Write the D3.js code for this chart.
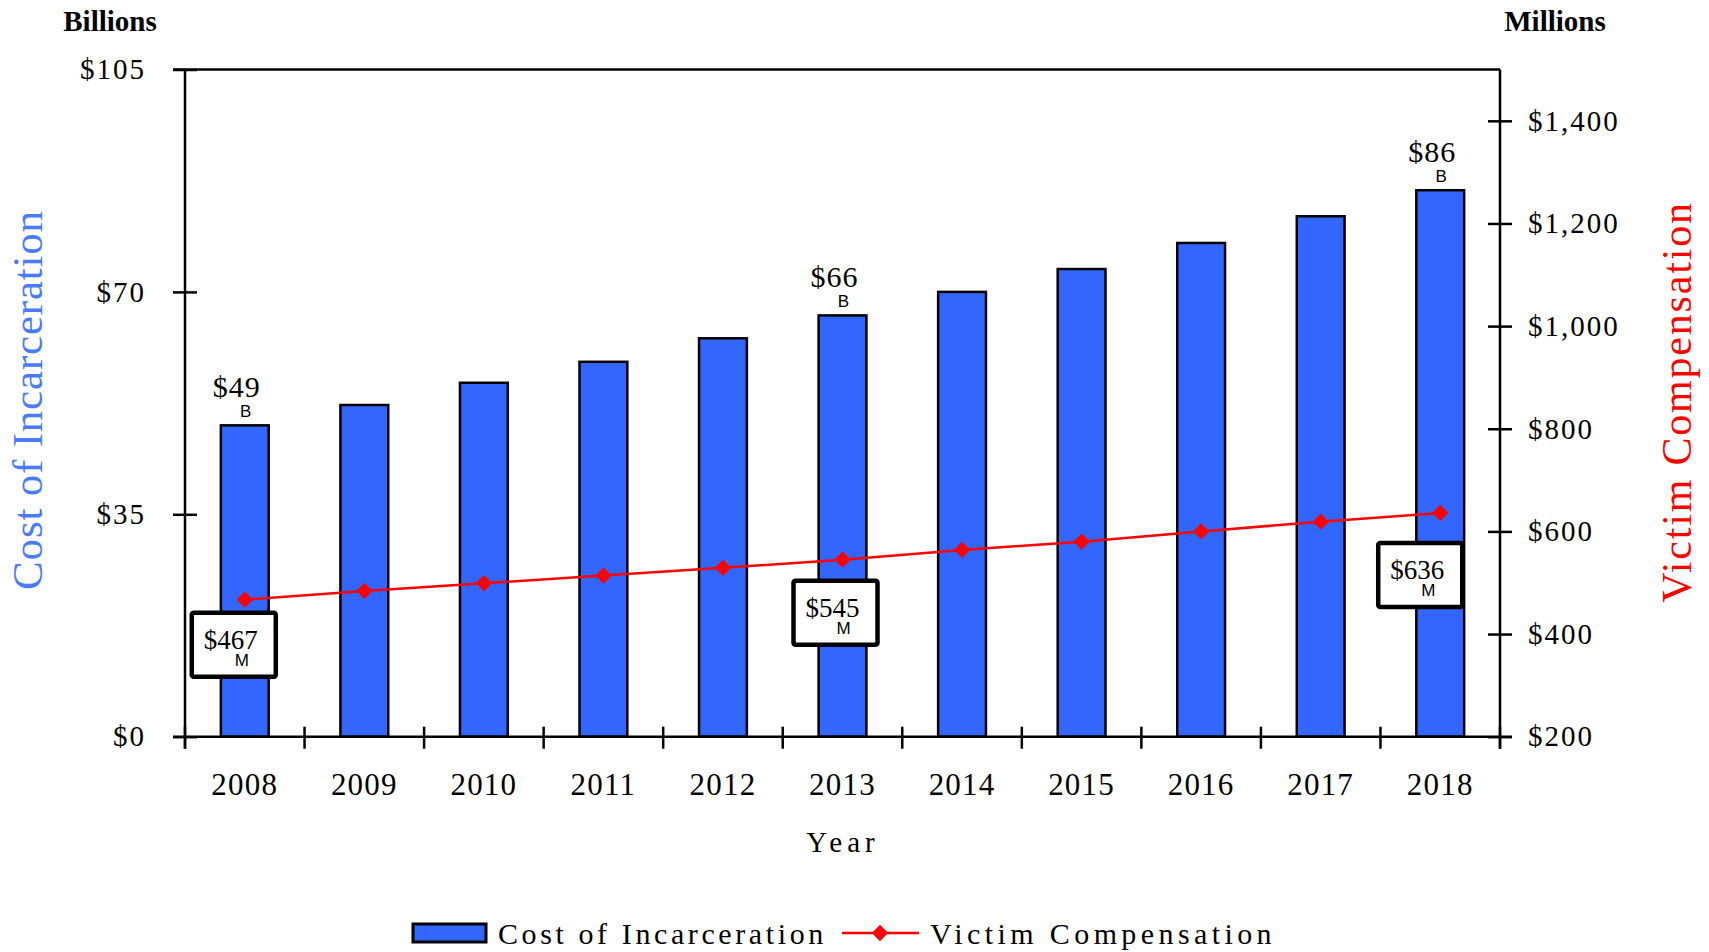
<!DOCTYPE html>
<html>
<head>
<meta charset="utf-8">
<script src="https://cdn.jsdelivr.net/npm/d3@7/dist/d3.min.js"></script>
<style>
  body { margin: 0; background: #fff; }
  text { font-family: "Liberation Serif", "Times New Roman", serif; }
  .sans { font-family: "Liberation Sans", Arial, sans-serif; }
</style>
</head>
<body>
<script>
// data
var years = ["2008", "2009", "2010", "2011", "2012", "2013", "2014", "2015", "2016", "2017", "2018"];
var incarceration = [49, 52.2, 55.7, 59.0, 62.7, 66.3, 70.0, 73.6, 77.7, 81.9, 86];   // billions
var compensation = [467, 484, 499, 514, 529, 545, 564, 580, 600, 619, 636];          // millions
var leftTicks = [0, 35, 70, 105];
var rightTicks = [200, 400, 600, 800, 1000, 1200, 1400];
var barLabels = [{ year: "2008", text: "$49" }, { year: "2013", text: "$66" }, { year: "2018", text: "$86" }];
var lineLabels = [{ year: "2008", text: "$467" }, { year: "2013", text: "$545" }, { year: "2018", text: "$636" }];

var width = 1709, height = 952;
var plotLeft = 185, plotRight = 1500, plotTop = 69.5, plotBottom = 736.7;
var blue = "#3366FF", red = "#FF0000";

var svg = d3.select("body").append("svg")
    .attr("width", width)
    .attr("height", height);

var x = d3.scaleBand()
    .domain(years)
    .range([plotLeft, plotRight])
    .paddingInner(0.6)
    .paddingOuter(0.3);

var yL = d3.scaleLinear().domain([0, 105]).range([plotBottom, plotTop]);
var yR = d3.scaleLinear().domain([200, 1500]).range([plotBottom, plotTop]);

var cx = function(y) { return x(y) + x.bandwidth() / 2; };

// bars
svg.selectAll(".bar")
    .data(years)
    .enter().append("rect")
        .attr("class", "bar")
        .attr("x", function(d) { return x(d); })
        .attr("width", x.bandwidth())
        .attr("y", function(d, i) { return yL(incarceration[i]); })
        .attr("height", function(d, i) { return plotBottom - yL(incarceration[i]); })
        .attr("fill", blue)
        .attr("stroke", "#000")
        .attr("stroke-width", 2.5);

// frame
var frame = svg.append("g").attr("stroke", "#000").attr("stroke-width", 2.5);
frame.append("line").attr("x1", plotLeft - 12).attr("x2", plotRight).attr("y1", plotTop).attr("y2", plotTop);
frame.append("line").attr("x1", plotLeft).attr("x2", plotLeft).attr("y1", plotTop).attr("y2", plotBottom + 12);
frame.append("line").attr("x1", plotRight).attr("x2", plotRight).attr("y1", plotTop).attr("y2", plotBottom + 12);
frame.append("line").attr("x1", plotLeft - 12).attr("x2", plotRight + 12).attr("y1", plotBottom).attr("y2", plotBottom);

// x ticks at category boundaries
var edges = years.map(function(d) { return x(d) - x.step() * 0.3; }).concat([plotRight]);
frame.selectAll(".xt")
    .data(edges)
    .enter().append("line")
        .attr("x1", function(d) { return d; })
        .attr("x2", function(d) { return d; })
        .attr("y1", plotBottom - 10)
        .attr("y2", plotBottom + 12);

// left axis
var gL = svg.append("g")
    .attr("transform", "translate(" + plotLeft + ",0)")
    .call(d3.axisLeft(yL).tickValues(leftTicks).tickSize(12).tickPadding(27)
        .tickFormat(function(d) { return "$" + d; }));
gL.select(".domain").remove();
gL.selectAll(".tick line").attr("x1", 12).attr("stroke-width", 2.5);
gL.selectAll(".tick text")
    .attr("font-family", "Liberation Serif, serif")
    .attr("font-size", 29)
    .attr("letter-spacing", 2)
    .attr("fill", "#000");

// right axis
var gR = svg.append("g")
    .attr("transform", "translate(" + plotRight + ",0)")
    .call(d3.axisRight(yR).tickValues(rightTicks).tickSize(12).tickPadding(16)
        .tickFormat(function(d) { return "$" + d3.format(",")(d); }));
gR.select(".domain").remove();
gR.selectAll(".tick line").attr("x1", -12).attr("stroke-width", 2.5);
gR.selectAll(".tick text")
    .attr("font-family", "Liberation Serif, serif")
    .attr("font-size", 29)
    .attr("letter-spacing", 2)
    .attr("fill", "#000");

// x labels
svg.selectAll(".xl")
    .data(years)
    .enter().append("text")
        .attr("x", function(d) { return cx(d); })
        .attr("y", 795)
        .attr("text-anchor", "middle")
        .attr("font-size", 31)
        .attr("letter-spacing", 1.2)
        .text(function(d) { return d; });

svg.append("text")
    .attr("x", 843).attr("y", 852)
    .attr("text-anchor", "middle")
    .attr("font-size", 29)
    .attr("letter-spacing", 5)
    .text("Year");

// unit headers
svg.append("text").attr("x", 110).attr("y", 31).attr("text-anchor", "middle")
    .attr("font-size", 29).attr("font-weight", "bold").text("Billions");
svg.append("text").attr("x", 1555).attr("y", 31).attr("text-anchor", "middle")
    .attr("font-size", 29).attr("font-weight", "bold").text("Millions");

// axis titles
svg.append("text")
    .attr("transform", "translate(42,400) rotate(-90)")
    .attr("text-anchor", "middle")
    .attr("font-size", 43)
    .attr("letter-spacing", 0.8)
    .attr("fill", "#4A7BFF")
    .text("Cost of Incarceration");
svg.append("text")
    .attr("transform", "translate(1691,402) rotate(-90)")
    .attr("text-anchor", "middle")
    .attr("font-size", 42)
    .attr("letter-spacing", 1.8)
    .attr("fill", red)
    .text("Victim Compensation");

// line + diamonds
var line = d3.line()
    .x(function(d) { return cx(d); })
    .y(function(d, i) { return yR(compensation[i]); });

svg.append("path")
    .datum(years)
    .attr("d", line)
    .attr("fill", "none")
    .attr("stroke", red)
    .attr("stroke-width", 2.5);

var diamond = d3.symbol().type(d3.symbolDiamond2).size(170);
svg.selectAll(".dot")
    .data(years)
    .enter().append("path")
        .attr("class", "dot")
        .attr("transform", function(d, i) { return "translate(" + cx(d) + "," + yR(compensation[i]) + ")"; })
        .attr("d", diamond)
        .attr("fill", red);

// bar value labels
var bl = svg.selectAll(".bl")
    .data(barLabels)
    .enter().append("g")
        .attr("transform", function(d) {
            return "translate(" + cx(d.year) + "," + yL(incarceration[years.indexOf(d.year)]) + ")";
        });
bl.append("text")
    .attr("x", -8).attr("y", -28)
    .attr("text-anchor", "middle")
    .attr("font-size", 30)
    .attr("letter-spacing", 1)
    .text(function(d) { return d.text; });
bl.append("text")
    .attr("class", "sans")
    .attr("x", 1).attr("y", -8)
    .attr("text-anchor", "middle")
    .attr("font-size", 17)
    .text("B");

// callout boxes on the line
var boxShift = { "2008": [-11, 45], "2013": [-7, 53], "2018": [-20, 62] };
var cl = svg.selectAll(".cl")
    .data(lineLabels)
    .enter().append("g")
        .attr("transform", function(d) {
            var s = boxShift[d.year];
            return "translate(" + (cx(d.year) + s[0]) + "," + (yR(compensation[years.indexOf(d.year)]) + s[1]) + ")";
        });
cl.append("rect")
    .attr("x", -42).attr("y", -32)
    .attr("width", 84).attr("height", 64)
    .attr("rx", 2)
    .attr("fill", "#fff")
    .attr("stroke", "#000")
    .attr("stroke-width", 4.5);
cl.append("text")
    .attr("x", -3).attr("y", 4)
    .attr("text-anchor", "middle")
    .attr("font-size", 27)
    .text(function(d) { return d.text; });
cl.append("text")
    .attr("class", "sans")
    .attr("x", 8).attr("y", 21)
    .attr("text-anchor", "middle")
    .attr("font-size", 17)
    .text("M");

// legend
var lg = svg.append("g");
lg.append("rect").attr("x", 413).attr("y", 924).attr("width", 73).attr("height", 18)
    .attr("fill", blue).attr("stroke", "#000").attr("stroke-width", 3);
lg.append("text").attr("x", 498).attr("y", 944).attr("font-size", 30).attr("letter-spacing", 3.6)
    .text("Cost of Incarceration");
lg.append("line").attr("x1", 842).attr("x2", 919).attr("y1", 933).attr("y2", 933)
    .attr("stroke", red).attr("stroke-width", 2.5);
lg.append("path").attr("transform", "translate(880,933)").attr("d", diamond).attr("fill", red);
lg.append("text").attr("x", 930).attr("y", 944).attr("font-size", 30).attr("letter-spacing", 4.4)
    .text("Victim Compensation");
</script>
</body>
</html>
